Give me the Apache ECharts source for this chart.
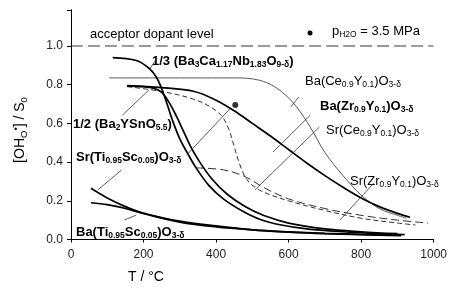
<!DOCTYPE html>
<html>
<head>
<meta charset="utf-8">
<script src="https://cdn.jsdelivr.net/npm/echarts@6/dist/echarts.min.js"></script>
<style>
  html, body { margin: 0; padding: 0; background: #fff; }
  #chart { width: 450px; height: 289px; }
</style>
</head>
<body>
<div id="chart"></div>
<script>
// tick values
const xTicks = [0, 200, 400, 600, 800, 1000];
const yTicks = [0, 0.2, 0.4, 0.6, 0.8, 1.0];

// curves: [T / °C, [OH]/S0]
const acceptorLevel = [[0, 1.0], [1000, 1.0]];
const baCaNb = [[115, 0.94], [180, 0.925], [215, 0.885], [235, 0.84], [250, 0.78], [265, 0.70], [280, 0.615], [300, 0.52], [320, 0.45], [345, 0.37], [380, 0.28], [420, 0.21], [470, 0.15], [520, 0.105], [580, 0.075], [650, 0.055], [750, 0.04], [850, 0.03], [920, 0.025]];
const ba2YSn = [[155, 0.793], [200, 0.79], [230, 0.78], [250, 0.76], [270, 0.71], [290, 0.64], [310, 0.56], [330, 0.48], [355, 0.40], [390, 0.31], [430, 0.235], [480, 0.17], [530, 0.125], [600, 0.085], [700, 0.055], [800, 0.04], [900, 0.03]];
const baZrY = [[155, 0.795], [250, 0.785], [340, 0.765], [400, 0.72], [450, 0.665], [500, 0.60], [550, 0.535], [600, 0.465], [650, 0.395], [700, 0.33], [750, 0.27], [800, 0.215], [850, 0.17], [900, 0.135], [935, 0.115]];
const baCeY = [[105, 0.835], [450, 0.835], [500, 0.83], [540, 0.81], [580, 0.765], [620, 0.69], [660, 0.58], [700, 0.45], [750, 0.33], [800, 0.23], [850, 0.16], [900, 0.125], [925, 0.11]];
const srCeY = [[155, 0.79], [250, 0.765], [330, 0.73], [380, 0.69], [415, 0.64], [435, 0.57], [450, 0.48], [465, 0.39], [485, 0.31], [520, 0.255], [600, 0.2], [700, 0.15], [800, 0.11], [900, 0.085], [950, 0.075]];
const srZrY = [[345, 0.37], [420, 0.36], [480, 0.325], [530, 0.27], [600, 0.21], [700, 0.16], [800, 0.125], [900, 0.1], [985, 0.085]];
const srTiSc = [[55, 0.265], [100, 0.215], [150, 0.17], [200, 0.135], [300, 0.09], [400, 0.065], [500, 0.05], [600, 0.04], [700, 0.032], [800, 0.027], [910, 0.022]];
const baTiSc = [[55, 0.19], [100, 0.18], [150, 0.16], [200, 0.135], [300, 0.095], [400, 0.07], [500, 0.05], [600, 0.038], [700, 0.03], [800, 0.025], [910, 0.02]];
const highPressurePoint = [[453, 0.695]];

// leader lines from labels to curves
const leaders = [
  [[237, 0.938], [216, 0.876]],
  [[142, 0.643], [215, 0.773]],
  [[74, 0.256], [139, 0.359]],
  [[147, 0.101], [180, 0.126]],
  [[319, 0.437], [439, 0.677]],
  [[628, 0.736], [606, 0.685]],
  [[660, 0.643], [557, 0.452]],
  [[685, 0.581], [507, 0.256]],
  [[835, 0.292], [742, 0.101]]
];

const chart = echarts.init(document.getElementById('chart'));

function curve(data, width, color, type) {
  return {
    type: 'line', data: data, smooth: 0.35, symbol: 'none', silent: true,
    lineStyle: { width: width, color: color, type: type || 'solid' }
  };
}

const series = [
  curve(acceptorLevel, 1, '#333', [12, 5]),
  curve(baCeY, 0.9, '#444'),
  curve(srCeY, 1, '#333', [5, 3]),
  curve(srZrY, 1, '#333', [8, 4]),
  curve(baCaNb, 1.7, '#000'),
  curve(ba2YSn, 1.7, '#000'),
  curve(baZrY, 1.7, '#000'),
  curve(srTiSc, 1.7, '#000'),
  curve(baTiSc, 1.7, '#000'),
  {
    type: 'scatter', data: highPressurePoint, symbolSize: 6,
    itemStyle: { color: '#000' }, silent: true
  }
];
leaders.forEach(function (seg) {
  series.push({
    type: 'line', data: seg, symbol: 'none', silent: true,
    lineStyle: { width: 0.8, color: '#333' }
  });
});

const font = 'Liberation Sans';
const rich = {
  n: { fontSize: 13, fontFamily: font, color: '#111' },
  ns: { fontSize: 8.5, fontFamily: font, color: '#111', padding: [8, 0, 0, 0] },
  b: { fontSize: 13, fontFamily: font, fontWeight: 'bold', color: '#111' },
  bs: { fontSize: 8.5, fontFamily: font, fontWeight: 'bold', color: '#111', padding: [8, 0, 0, 0] },
  t: { fontSize: 14, fontFamily: font, color: '#111' },
  ts: { fontSize: 9.5, fontFamily: font, color: '#111', padding: [8, 0, 0, 0] },
  tp: { fontSize: 9.5, fontFamily: font, color: '#111', padding: [0, 0, 8, 0] }
};

function label(x, y, text) {
  return { type: 'text', x: x, y: y, silent: true, style: { text: text, rich: rich, verticalAlign: 'middle' } };
}

chart.setOption({
  animation: false,
  backgroundColor: '#fff',
  grid: { left: 71, right: 13, top: 10, bottom: 49.5 },
  xAxis: [{
    type: 'value', min: 0, max: 1000, interval: 200,
    axisLine: { lineStyle: { color: '#000', width: 1 } },
    axisTick: { length: 3, lineStyle: { color: '#000' } },
    axisLabel: {
      margin: 9, fontSize: 12, fontFamily: font, color: '#222',
      formatter: function (v) { return String(v); }
    },
    splitLine: { show: false }
  }, {
    type: 'value', position: 'top', min: 0, max: 1000,
    axisLine: { show: true, lineStyle: { color: '#000', width: 1 } },
    axisTick: { show: false }, axisLabel: { show: false }, splitLine: { show: false }
  }],
  yAxis: [{
    type: 'value', min: 0, max: 1.186, interval: 0.2,
    axisLine: { show: true, lineStyle: { color: '#000', width: 1 } },
    axisTick: { show: true, length: 4, lineStyle: { color: '#000' } },
    axisLabel: {
      margin: 8, fontSize: 12, fontFamily: font, color: '#222',
      formatter: function (v) { return v > 1.05 ? '' : v.toFixed(1); }
    },
    splitLine: { show: false }
  }, {
    type: 'value', position: 'right', min: 0, max: 1.186,
    axisLine: { show: true, lineStyle: { color: '#000', width: 1 } },
    axisTick: { show: false }, axisLabel: { show: false }, splitLine: { show: false }
  }],
  series: series,
  graphic: [
    label(90, 34, '{n|acceptor dopant level}'),
    { type: 'circle', shape: { cx: 310, cy: 33, r: 2.5 }, style: { fill: '#000' }, silent: true },
    label(332, 31, '{n|p}{ns|H2O}{n| = 3.5 MPa}'),
    label(152, 61, '{b|1/3 (Ba}{bs|3}{b|Ca}{bs|1.17}{b|Nb}{bs|1.83}{b|O}{bs|9-δ}{b|)}'),
    label(305, 81, '{n|Ba(Ce}{ns|0.9}{n|Y}{ns|0.1}{n|)O}{ns|3-δ}'),
    label(320, 106, '{b|Ba(Zr}{bs|0.9}{b|Y}{bs|0.1}{b|)O}{bs|3-δ}'),
    label(326, 130, '{n|Sr(Ce}{ns|0.9}{n|Y}{ns|0.1}{n|)O}{ns|3-δ}'),
    label(350, 181, '{n|Sr(Zr}{ns|0.9}{n|Y}{ns|0.1}{n|)O}{ns|3-δ}'),
    label(73, 124, '{b|1/2 (Ba}{bs|2}{b|YSnO}{bs|5.5}{b|)}'),
    label(76, 157, '{b|Sr(Ti}{bs|0.95}{b|Sc}{bs|0.05}{b|)O}{bs|3-δ}'),
    label(76, 232, '{b|Ba(Ti}{bs|0.95}{b|Sc}{bs|0.05}{b|)O}{bs|3-δ}'),
    label(128, 277, '{t|T / °C}'),
    {
      type: 'text', x: 20, y: 130, rotation: Math.PI / 2, silent: true,
      style: {
        text: '{t|[OH}{ts|O}{tp|•}{t|] / S}{ts|0}', rich: rich,
        align: 'center', verticalAlign: 'middle'
      }
    }
  ]
});
</script>
</body>
</html>
